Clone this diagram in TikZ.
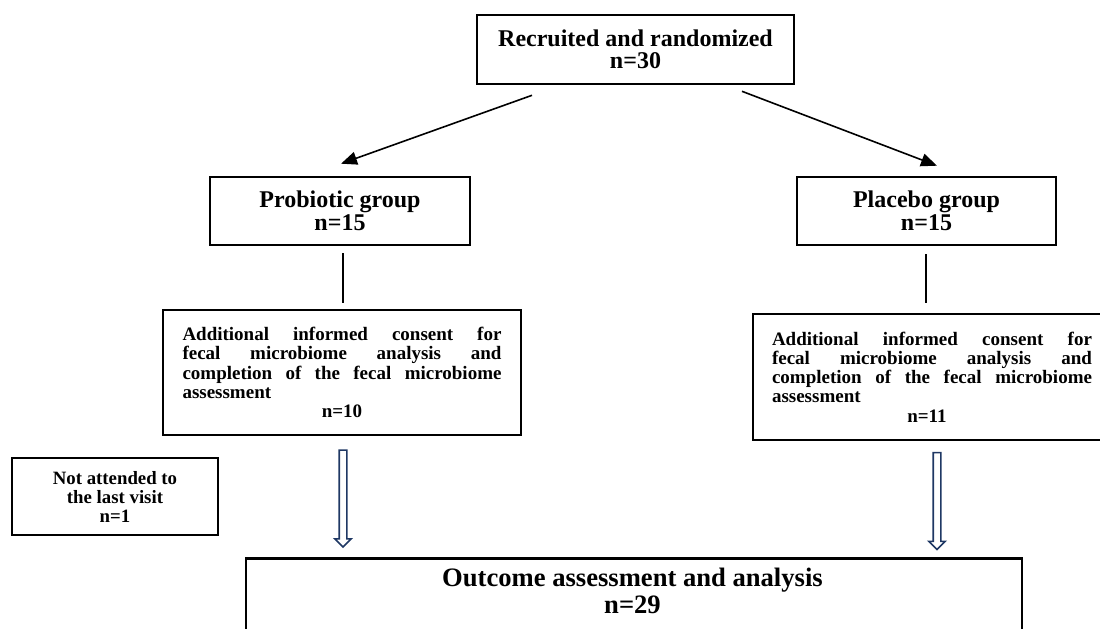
\documentclass[tikz,border=0pt]{standalone}
\usepackage{fontspec}
\setmainfont{Liberation Serif}
\usetikzlibrary{calc,shapes.arrows,arrows.meta}
\definecolor{arrowblue}{RGB}{31,56,100}

\begin{document}
\begin{tikzpicture}[x=0.5pt, y=-0.5pt,
    box/.style={draw, line width=1.3pt, align=center, inner sep=0pt},
    arr/.style={line width=0.8pt, -{Triangle[length=8pt, width=6.5pt]}},
    hollow/.style={single arrow, draw=arrowblue, line width=0.8pt, rotate=-90,
        minimum height=48.5pt, minimum width=1pt, inner sep=1.5pt,
        single arrow head extend=2.2pt, single arrow head indent=0pt}]
    \useasboundingbox (0,0) rectangle (1100,628);
    % boxes
    \node[box, minimum width=158.5pt, minimum height=34.5pt, font=\bfseries\fontsize{12}{11}\selectfont] (rec) at (635.5,49.5) {Recruited and randomized\\n=30};
    \node[box, minimum width=130pt, minimum height=34pt, font=\bfseries\fontsize{12}{10.5}\selectfont] (prob) at (340,211) {Probiotic group\\n=15};
    \node[box, minimum width=129.5pt, minimum height=34pt, font=\bfseries\fontsize{12}{10.5}\selectfont] (plac) at (926.5,211) {Placebo group\\n=15};
    \node[box, minimum width=179pt, minimum height=62.5pt, text width=159.5pt, align=justify, font=\bfseries\fontsize{9.5}{9.65}\selectfont] (addP) at (342,372.5) {Additional informed consent for\linebreak fecal microbiome analysis and\linebreak completion of the fecal microbiome\linebreak assessment\par\makebox[\hsize]{n=10}};
    \node[box, minimum width=179pt, minimum height=63pt, text width=160pt, align=justify, font=\bfseries\fontsize{9.5}{9.65}\selectfont] (addQ) at (932,377) {Additional informed consent for\linebreak fecal microbiome analysis and\linebreak completion of the fecal microbiome\linebreak assessment\par\makebox[\hsize]{\hspace{-5pt}n=11}};
    \node[box, minimum width=103pt, minimum height=38.5pt, font=\bfseries\fontsize{9.4}{9.5}\selectfont] (nat) at (115,496.5) {Not attended to\\the last visit\\n=1};
    \node[box, minimum width=388pt, minimum height=40pt, anchor=north] (outc) at (634,557) {};
    \node[align=center, inner sep=0pt, font=\bfseries\fontsize{13.3}{13.5}\selectfont] (outtxt) at ($(outc.north)+(-1.5,33.5)$) {Outcome assessment and analysis\\n=29};
    % connectors
    \draw[arr] ($(rec.south)+(-103.5,10)$) -- ($(prob.north)+(1,-12)$);
    \draw[arr] ($(rec.south)+(106.5,6)$) -- ($(plac.north)+(10.5,-10)$);
    \draw[line width=1.2pt] ($(prob.south)+(3,7)$) -- ($(addP.north)+(1,-6)$);
    \draw[line width=1.2pt] ($(plac.south)+(-0.5,8)$) -- ($(addQ.north)+(-6,-10)$);
    \coordinate (p1) at ($(addP.south)+(1,0)$);
    \coordinate (q1) at ($(addQ.south)+(5,0)$);
    \path (p1) -- (p1 |- outc.north) node[midway, hollow] (hp) {};
    \path (q1) -- (q1 |- outc.north) node[midway, hollow] (hq) {};
\end{tikzpicture}
\end{document}
